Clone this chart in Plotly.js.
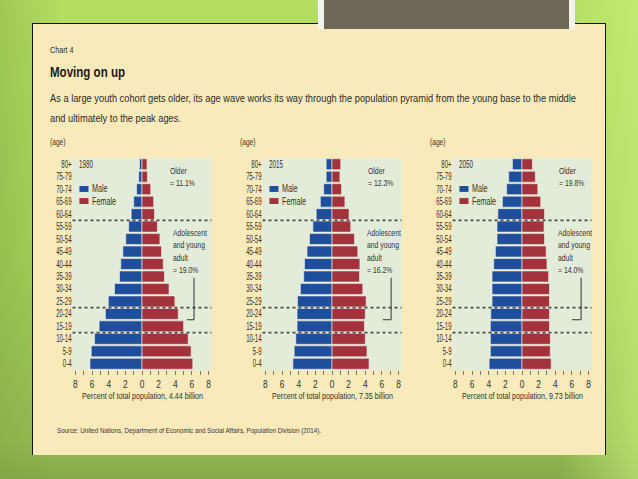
<!DOCTYPE html>
<html>
<head>
<meta charset="utf-8">
<script src="https://cdn.plot.ly/plotly-3.0.1.min.js"></script>
<style>
  html, body { margin:0; padding:0; }
  body { width:638px; height:479px; overflow:hidden; position:relative;
    background: linear-gradient(180deg, #b3de60 0%, #a6d25a 55%, #95bb52 92%, #87a94b 100%); }
  #leftshade { position:absolute; left:0; top:0; width:60px; height:479px;
    background: linear-gradient(90deg, rgba(120,160,60,0.35) 0%, rgba(120,160,60,0) 100%); }
  #rightglow { position:absolute; left:560px; top:0; width:78px; height:479px;
    background: linear-gradient(90deg, rgba(205,242,125,0) 0%, rgba(205,242,125,0.6) 100%); }
  #panel { position:absolute; left:32px; top:23px; width:574px; height:432px; background:#f8eaba;
    border-left:1.5px solid #111; border-right:1.5px solid #111; border-top:1px solid #111; box-sizing:border-box; }
  #graybox { position:absolute; left:318px; top:0; width:257px; height:29px; background:#6e6657;
    border-left:6px solid #f2f3ea; border-right:6px solid #f2f3ea; box-sizing:border-box; }
  #chart { position:absolute; left:0; top:0; width:638px; height:479px; }
</style>
</head>
<body>
<div id="leftshade"></div>
<div id="rightglow"></div>
<div id="panel"></div>
<div id="graybox"></div>
<div id="chart"></div>
<script>
// ---- data ----
const ageGroups = ['0-4','5-9','10-14','15-19','20-24','25-29','30-34','35-39','40-44','45-49','50-54','55-59','60-64','65-69','70-74','75-79','80+'];
const years = ['1980','2015','2050'];
const male1980   = [6.25,6.1,5.7,5.15,4.4,4.05,3.3,2.7,2.55,2.3,1.95,1.6,1.3,1.0,0.65,0.4,0.3];
const female1980 = [6.1,5.9,5.55,5.0,4.35,3.95,3.25,2.7,2.55,2.35,2.15,1.85,1.5,1.4,1.05,0.65,0.6];
const male2015   = [4.7,4.55,4.35,4.2,4.2,4.15,3.8,3.4,3.3,3.0,2.7,2.3,1.9,1.4,1.0,0.7,0.7];
const female2015 = [4.45,4.2,4.0,3.9,4.0,4.1,3.7,3.3,3.35,3.1,2.7,2.25,2.05,1.55,1.15,0.95,1.05];
const male2050   = [3.95,3.8,3.8,3.8,3.75,3.6,3.6,3.6,3.4,3.2,3.0,3.0,2.9,2.35,1.85,1.6,1.15];
const female2050 = [3.5,3.4,3.4,3.3,3.3,3.3,3.3,3.2,3.0,2.9,2.7,2.65,2.7,2.25,1.9,1.6,1.25];
const olderShare = ['11.1%','12.3%','19.8%'];
const youthShare = ['19.0%','16.2%','14.0%'];
const totalPop = ['4.44','7.35','9.73'];
const xTickVals = [-8,-6,-4,-2,0,2,4,6,8];
const xTickText = ['8','6','4','2','0','2','4','6','8'];

// ---- style ----
const FONT = 'Liberation Sans, Arial, sans-serif';
const MALE = '#1f4f9c', FEMALE = '#a3323c', TXT = '#35312d';
const W = 638, H = 479;
const centers = [142, 332, 522];
const halfW = 69.5;
const yTop = 158, yBot = 370;
const olderX = [3.1, 4.1, 4.2];
const youthX = [3.5, 4.0, 4.1];
const bracketX = [[6.25, 5.4], [7.1, 6.1], [7.1, 6.0]];

const males = [male1980, male2015, male2050];
const females = [female1980, female2015, female2050];

const traces = [];
const layout = {
  width: W, height: H, margin: {l:0, r:0, t:0, b:0},
  paper_bgcolor: 'rgba(0,0,0,0)', plot_bgcolor: '#e3ecd9',
  barmode: 'relative', bargap: 0.12, showlegend: false,
  font: {family: FONT, color: TXT},
  annotations: [], shapes: []
};
const annFit = [];
function addAnn(a, fit) { layout.annotations.push(a); annFit.push(fit); }
const L = {showarrow: false, xanchor: 'left', yanchor: 'middle', align: 'left'};

for (let p = 0; p < 3; p++) {
  const sfx = p === 0 ? '' : String(p + 1);
  const xa = 'x' + sfx, ya = 'y' + sfx;
  traces.push({
    type: 'bar', orientation: 'h', name: 'Male', y: ageGroups, x: males[p].map(v => -v),
    xaxis: xa, yaxis: ya, marker: {color: MALE, line: {color: '#f4f1ea', width: 0.6}}, hoverinfo: 'skip'
  });
  traces.push({
    type: 'bar', orientation: 'h', name: 'Female', y: ageGroups, x: females[p],
    xaxis: xa, yaxis: ya, marker: {color: FEMALE, line: {color: '#f4f1ea', width: 0.6}}, hoverinfo: 'skip'
  });
  const d0 = (centers[p] - halfW) / W, d1 = (centers[p] + halfW) / W;
  layout['xaxis' + sfx] = {
    domain: [d0, d1], anchor: ya, range: [-8.35, 8.35], automargin: false,
    tickvals: xTickVals, ticktext: xTickText, ticks: 'outside', ticklen: 4, tickwidth: 1, tickcolor: '#777',
    minor: {dtick: 1, tick0: 0, ticks: 'outside', ticklen: 4, tickcolor: '#777', showgrid: false},
    showgrid: false, zeroline: false, showline: false, fixedrange: true,
    tickfont: {family: FONT, size: 10.5, color: TXT}
  };
  layout['yaxis' + sfx] = {
    domain: [1 - yBot / H, 1 - yTop / H], anchor: xa, type: 'category', range: [-0.5, 16.5],
    automargin: false, showgrid: false, zeroline: false, showline: false, ticks: '', fixedrange: true,
    tickfont: {family: FONT, size: 10, color: TXT}
  };
  const dref = xa + ' domain', yref = ya + ' domain';
  [11.5, 4.5, 2.5].forEach(yv => layout.shapes.push({
    type: 'line', xref: dref, yref: ya, x0: 0, x1: 1, y0: yv, y1: yv,
    line: {color: '#4a4a4a', width: 1.6, dash: 'dot'}, layer: 'above'
  }));
  layout.shapes.push({
    type: 'path', xref: xa, yref: ya,
    path: `M ${bracketX[p][0]},6.9 L ${bracketX[p][0]},3.53 L ${bracketX[p][1]},3.53`,
    line: {color: '#333', width: 1}
  });
  layout.shapes.push({type:'rect', xref: dref, yref: yref, x0: 0.05, x1: 0.115, y0: 0.840, y1: 0.868, fillcolor: MALE, line:{width:0}});
  layout.shapes.push({type:'rect', xref: dref, yref: yref, x0: 0.05, x1: 0.115, y0: 0.783, y1: 0.811, fillcolor: FEMALE, line:{width:0}});
  addAnn({...L, xref: dref, yref: yref, x: 0.032, y: 0.972, text: years[p], font: {size: 10.5}}, {f: 0.6});
  addAnn({...L, xref: dref, yref: yref, x: 0.125, y: 0.854, text: 'Male', font: {size: 10}}, {f: 0.72});
  addAnn({...L, xref: dref, yref: yref, x: 0.125, y: 0.797, text: 'Female', font: {size: 10}}, {f: 0.72});
  addAnn({...L, xref: xa, yref: ya, x: olderX[p], y: 15.0, text: 'Older<br>= ' + olderShare[p], font: {size: 9.5}}, {f: 0.72});
  addAnn({...L, xref: xa, yref: ya, x: youthX[p], y: 9.05, text: 'Adolescent<br>and young<br>adult<br>= ' + youthShare[p], font: {size: 9.5}}, {f: 0.72});
  addAnn({xref: xa, yref: 'paper', x: 0, y: 1 - 395 / H, text: 'Percent of total population, ' + totalPop[p] + ' billion', showarrow: false, xanchor: 'center', yanchor: 'middle', align: 'center', font: {size: 9.5}}, {w: 121});
  addAnn({...L, xref: 'paper', yref: 'paper', x: (centers[p] - 94.5) / W, y: 1 - 141.5 / H, text: '(age)', font: {size: 9}}, {w: 15.5});
}

addAnn({...L, xref:'paper', yref:'paper', x: 47.5/W, y: 1 - 50/H, text: 'Chart 4', font:{size: 9, color:'#2e2b28'}}, {w: 23.5});
addAnn({...L, xref:'paper', yref:'paper', x: 47.5/W, y: 1 - 71.5/H, text: '<b>Moving on up</b>', font:{size: 15.5, color:'#1c1a18'}}, {w: 75});
addAnn({...L, xref:'paper', yref:'paper', x: 47.5/W, y: 1 - 98.5/H, text: 'As a large youth cohort gets older, its age wave works its way through the population pyramid from the young base to the middle', font:{size: 10.2, color:'#2e2b28'}}, {w: 526});
addAnn({...L, xref:'paper', yref:'paper', x: 47.5/W, y: 1 - 118/H, text: 'and ultimately to the peak ages.', font:{size: 10.2, color:'#2e2b28'}}, {w: 131});
addAnn({...L, xref:'paper', yref:'paper', x: 55/W, y: 1 - 430/H, text: 'Source: United Nations, Department of Economic and Social Affairs, Population Division (2014).', font:{size: 8, color:'#3a3632'}}, {w: 264});

function squeeze(el, fit) {
  const lines = el.querySelectorAll('tspan.line');
  const targets = lines.length ? Array.from(lines) : [el];
  targets.forEach(t => {
    const len = t.getComputedTextLength();
    if (!len) return;
    const nl = fit.w ? fit.w : len * fit.f;
    t.setAttribute('textLength', nl.toFixed(2));
    t.setAttribute('lengthAdjust', 'spacingAndGlyphs');
  });
}

Plotly.newPlot('chart', traces, layout, {staticPlot: true, displayModeBar: false}).then(gd => {
  gd.querySelectorAll('g.annotation').forEach(g => {
    const i = +g.getAttribute('data-index');
    const t = g.querySelector('text.annotation-text');
    if (t && annFit[i]) squeeze(t, annFit[i]);
  });
  gd.querySelectorAll('.yaxislayer-above text').forEach(t => squeeze(t, {f: 0.6}));
  gd.querySelectorAll('.xaxislayer-above text').forEach(t => squeeze(t, {f: 0.8}));
});
</script>
</body>
</html>
